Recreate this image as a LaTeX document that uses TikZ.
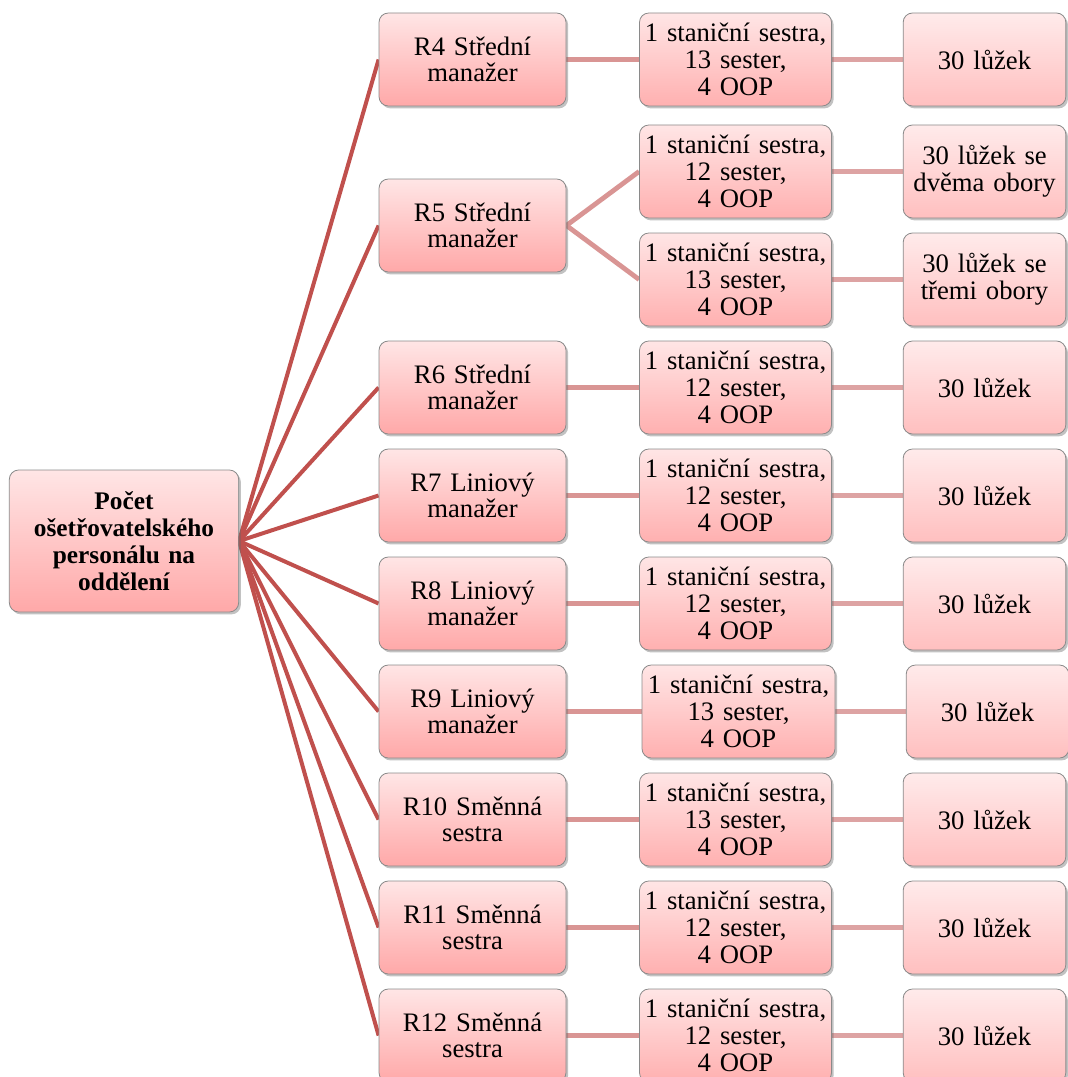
\documentclass[tikz,border=0pt]{standalone}
\usepackage{fontspec}
\setmainfont{Liberation Serif}
\usetikzlibrary{shadows,backgrounds}

\definecolor{spoke}{HTML}{C0504D}
\definecolor{linkA}{HTML}{D99594}
\definecolor{linkB}{HTML}{DDA3A3}
\definecolor{edge}{HTML}{8A8A8A}

\tikzset{
  card/.style={draw=edge, line width=0.6pt, rounded corners=7pt,
    align=center, inner sep=2pt, text=black,
    font=\fontsize{20}{20}\selectfont,
    drop shadow={shadow xshift=1.6pt, shadow yshift=-1.8pt, opacity=0.4, fill=black!60}},
  rolebox/.style={card, top color=red!10!white, bottom color=red!34!white,
    minimum width=140.25pt, minimum height=69.75pt, text width=136pt},
  staffbox/.style={card, top color=red!10!white, bottom color=red!31!white,
    minimum width=140.25pt, minimum height=69.75pt, text width=140pt},
  bedbox/.style={card, top color=red!8!white, bottom color=red!25!white,
    minimum width=120.75pt, minimum height=69.75pt, text width=118pt},
  rootbox/.style={card, top color=red!10!white, bottom color=red!34!white,
    minimum width=171pt, minimum height=106.5pt, text width=168pt,
    font=\fontsize{19}{20.25}\selectfont\bfseries},
  spokeline/.style={spoke, line width=3pt},
  linkone/.style={linkA, line width=3.6pt},
  linktwo/.style={linkB, line width=3.6pt}
}

\begin{document}
\begin{tikzpicture}[x=0.75pt, y=-0.75pt]
\useasboundingbox (0,0) rectangle (1067,1077);

% root
\node[rootbox] (root) at (124,541) {Počet\\ošetřovatelského\\personálu na\\oddělení};

% role column
\node[rolebox] (r4)  at (472.5,59.5)   {R4 Střední\\manažer};
\node[rolebox] (r5)  at (472.5,225.5)  {R5 Střední\\manažer};
\node[rolebox] (r6)  at (472.5,387.5)  {R6 Střední\\manažer};
\node[rolebox] (r7)  at (472.5,495.5)  {R7 Liniový\\manažer};
\node[rolebox] (r8)  at (472.5,603.5)  {R8 Liniový\\manažer};
\node[rolebox] (r9)  at (472.5,711.5)  {R9 Liniový\\manažer};
\node[rolebox] (r10) at (472.5,819.5)  {R10 Směnná\\sestra};
\node[rolebox] (r11) at (472.5,927.5)  {R11 Směnná\\sestra};
\node[rolebox] (r12) at (472.5,1035.5) {R12 Směnná\\sestra};

% staff column
\node[staffbox] (s4)  at (735.5,59.5)   {1 staniční sestra,\\13 sester,\\4 OOP};
\node[staffbox] (s5a) at (735.5,171.5)  {1 staniční sestra,\\12 sester,\\4 OOP};
\node[staffbox] (s5b) at (735.5,279.5)  {1 staniční sestra,\\13 sester,\\4 OOP};
\node[staffbox] (s6)  at (735.5,387.5)  {1 staniční sestra,\\12 sester,\\4 OOP};
\node[staffbox] (s7)  at (735.5,495.5)  {1 staniční sestra,\\12 sester,\\4 OOP};
\node[staffbox] (s8)  at (735.5,603.5)  {1 staniční sestra,\\12 sester,\\4 OOP};
\node[staffbox, minimum width=144.75pt] (s9) at (738.5,711.5) {1 staniční sestra,\\13 sester,\\4 OOP};
\node[staffbox] (s10) at (735.5,819.5)  {1 staniční sestra,\\13 sester,\\4 OOP};
\node[staffbox] (s11) at (735.5,927.5)  {1 staniční sestra,\\12 sester,\\4 OOP};
\node[staffbox] (s12) at (735.5,1035.5) {1 staniční sestra,\\12 sester,\\4 OOP};

% beds column
\node[bedbox] (b4)  at (984.5,59.5)   {30 lůžek};
\node[bedbox] (b5a) at (984.5,171.5)  {30 lůžek se\\dvěma obory};
\node[bedbox] (b5b) at (984.5,279.5)  {30 lůžek se\\třemi obory};
\node[bedbox] (b6)  at (984.5,387.5)  {30 lůžek};
\node[bedbox] (b7)  at (984.5,495.5)  {30 lůžek};
\node[bedbox] (b8)  at (984.5,603.5)  {30 lůžek};
\node[bedbox, minimum width=113.25pt] (b9) at (987.5,711.5) {30 lůžek};
\node[bedbox] (b10) at (984.5,819.5)  {30 lůžek};
\node[bedbox] (b11) at (984.5,927.5)  {30 lůžek};
\node[bedbox] (b12) at (984.5,1035.5) {30 lůžek};

\begin{scope}[on background layer]
  \foreach \r in {r4,r5,r6,r7,r8,r9,r10,r11,r12}
    \draw[spokeline] (root.east) -- (\r.west);
  \foreach \n in {4,6,7,8,9,10,11,12}
    \draw[linkone] (r\n.east) -- (s\n.west);
  \draw[linkone] (r5.east) -- (s5a.west);
  \draw[linkone] (r5.east) -- (s5b.west);
  \foreach \n in {4,5a,5b,6,7,8,9,10,11,12}
    \draw[linktwo] (s\n.east) -- (b\n.west);
\end{scope}
\end{tikzpicture}
\end{document}
